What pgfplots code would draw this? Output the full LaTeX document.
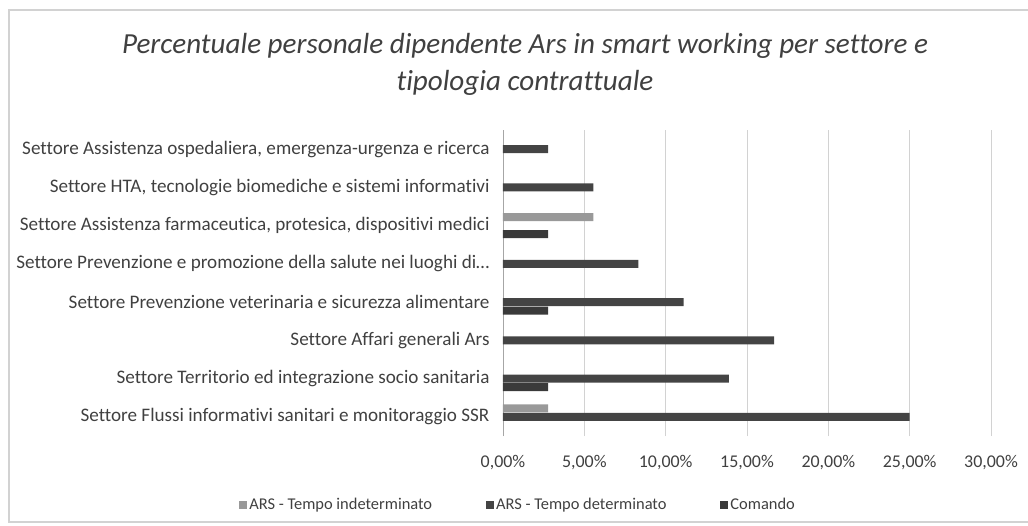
\documentclass[border=0pt]{standalone}
\usepackage{pgfplots}
\pgfplotsset{compat=1.18}
\usepackage{fontspec}
\setmainfont[Ligatures=NoCommon]{Carlito}
\definecolor{indet}{HTML}{999999}
\definecolor{det}{HTML}{444444}
\definecolor{com}{HTML}{3A3A3A}
\definecolor{txt}{HTML}{404040}
\begin{document}
\begin{tikzpicture}
\useasboundingbox (-503bp,-90bp) rectangle (525bp,436bp);
\draw[gray!35, line width=1.5bp] (540bp,426bp) -- (-494bp,426bp) -- (-494bp,-86bp) -- (540bp,-86bp);
\node[font=\fontsize{29.2}{37}\selectfont\itshape, text=txt, align=center] at (22bp,372bp)
  {Percentuale personale dipendente Ars in smart working per settore e\\tipologia contrattuale};
\begin{axis}[
  at={(0,0)}, anchor=south west,
  scale only axis, width=488bp, height=306bp,
  xbar, bar width=8bp,
  xmin=0, xmax=30, ymin=-0.5, ymax=7.5,
  xtick={0,5,...,30},
  xticklabels={{0,00\%},{5,00\%},{10,00\%},{15,00\%},{20,00\%},{25,00\%},{30,00\%}},
  ytick={0,...,7},
  yticklabels={
    Settore Flussi informativi sanitari e monitoraggio SSR,
    Settore Territorio ed integrazione socio sanitaria,
    Settore Affari generali Ars,
    Settore Prevenzione veterinaria e sicurezza alimentare,
    Settore Prevenzione e promozione della salute nei luoghi di\ldots,
    {Settore Assistenza farmaceutica, protesica, dispositivi medici},
    {Settore HTA, tecnologie biomediche e sistemi informativi},
    {Settore Assistenza ospedaliera, emergenza-urgenza e ricerca}},
  yticklabel style={font=\fontsize{19.2}{22}\selectfont, text=txt, xshift=-10bp},
  xticklabel style={font=\fontsize{18}{22}\selectfont, text=txt, yshift=-16bp},
  major tick length=0pt,
  axis lines*=left,
  x axis line style={draw=none},
  y axis line style={draw=gray!70, line width=0.8bp},
  xmajorgrids, grid style={gray!35, line width=0.8bp},
  legend columns=3,
  legend style={at={(0.031,-0.225)}, anchor=center, draw=none, fill=none,
    font=\fontsize{16.5}{20}\selectfont, text=txt,
    /tikz/every even column/.append style={column sep=52bp}},
  legend image code/.code={\fill[#1] (0bp,-4bp) rectangle (8bp,4bp);},
]
\addplot[fill=indet, draw=none, bar shift=8.5bp] coordinates {(5.56,5) (2.78,0)};
\addplot[fill=det, draw=none, bar shift=0bp] coordinates {(25,0) (13.89,1) (16.67,2) (11.11,3) (8.33,4) (5.56,6) (2.78,7)};
\addplot[fill=com, draw=none, bar shift=-8.5bp] coordinates {(2.78,1) (2.78,3) (2.78,5)};
\legend{ARS - Tempo indeterminato, ARS - Tempo determinato, Comando}
\end{axis}
\end{tikzpicture}
\end{document}
